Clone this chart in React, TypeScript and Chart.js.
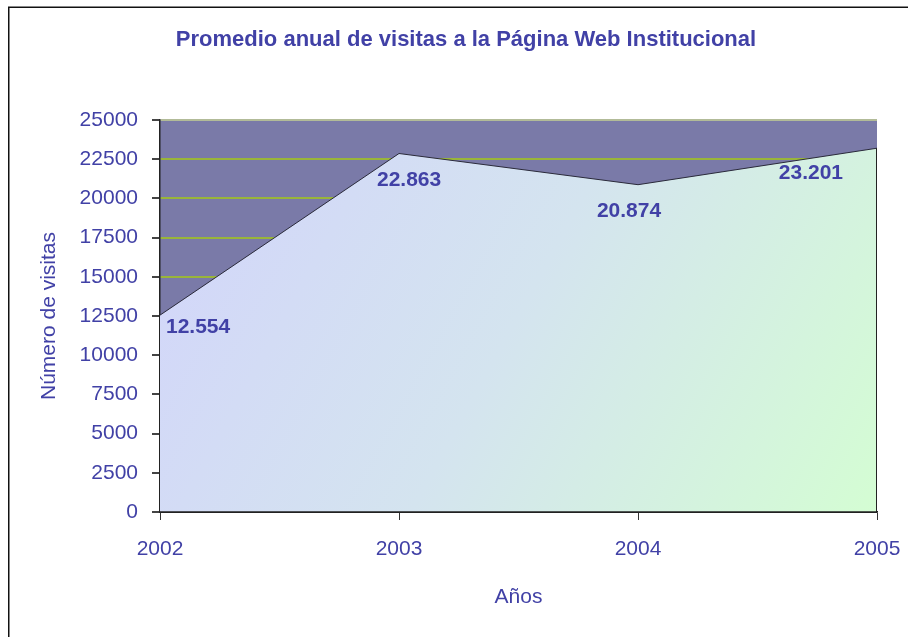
import React, { useEffect, useRef } from "react";
import { Chart, registerables } from "chart.js";

Chart.register(...registerables);

const years = ["2002", "2003", "2004", "2005"];
const visits = [12554, 22863, 20874, 23201];
const yTicks = [0, 2500, 5000, 7500, 10000, 12500, 15000, 17500, 20000, 22500, 25000];

const titleText = "Promedio anual de visitas a la Página Web Institucional";
const xTitle = "Años";
const yTitle = "Número de visitas";

const TEXT = "#4141a6";
const FONT = '"Liberation Sans", Arial, sans-serif';

// label placement relative to each point (styling only)
const labelPlacement = [
  { dx: 6, dy: 12, align: "left" },
  { dx: -22, dy: 27, align: "left" },
  { dx: -9, dy: 27, align: "center" },
  { dx: -34, dy: 25, align: "right" },
];

function fmt(v: number): string {
  return String(v).replace(/\B(?=(\d{3})+(?!\d))/g, ".");
}

const decorPlugin = {
  id: "decor",
  beforeDraw(chart: any) {
    const { ctx, chartArea } = chart;
    ctx.save();
    ctx.fillStyle = "#ffffff";
    ctx.fillRect(0, 0, chart.width, chart.height);
    ctx.strokeStyle = "#111111";
    ctx.lineWidth = 1.5;
    ctx.strokeRect(8.75, 7.25, chart.width + 20, chart.height + 20);
    ctx.fillStyle = "#7a7aa8";
    ctx.fillRect(chartArea.left, chartArea.top, chartArea.right - chartArea.left, chartArea.bottom - chartArea.top);
    ctx.restore();
  },
  afterDatasetsDraw(chart: any) {
    const { ctx, chartArea } = chart;
    const meta = chart.getDatasetMeta(0);
    const pts = meta.data;
    ctx.save();
    const last = pts[pts.length - 1];
    ctx.strokeStyle = "#222222";
    ctx.lineWidth = 1;
    ctx.beginPath();
    ctx.moveTo(Math.round(last.x) - 0.5, last.y);
    ctx.lineTo(Math.round(last.x) - 0.5, chartArea.bottom);
    ctx.stroke();
    ctx.font = `bold 21px ${FONT}`;
    ctx.fillStyle = TEXT;
    ctx.textBaseline = "middle";
    pts.forEach((p: any, i: number) => {
      const pl = labelPlacement[i];
      ctx.textAlign = pl.align;
      ctx.fillText(fmt(visits[i]), p.x + pl.dx, p.y + pl.dy);
    });
    ctx.restore();
  },
  afterDraw(chart: any) {
    const { ctx, chartArea } = chart;
    ctx.save();
    ctx.strokeStyle = "#222222";
    ctx.lineWidth = 1.5;
    ctx.beginPath();
    ctx.moveTo(chartArea.left, chartArea.bottom);
    ctx.lineTo(chartArea.right, chartArea.bottom);
    ctx.stroke();
    ctx.font = `bold 22px ${FONT}`;
    ctx.fillStyle = TEXT;
    ctx.textAlign = "center";
    ctx.textBaseline = "middle";
    ctx.fillText(titleText, 466, 40);
    ctx.restore();
  },
};

export default function App() {
  const ref = useRef<HTMLCanvasElement | null>(null);
  useEffect(() => {
    if (!ref.current) return;
    const chart = new Chart(ref.current, {
      type: "line",
      data: {
        labels: years,
        datasets: [
          {
            data: visits,
            fill: "origin",
            borderColor: "#2a2a3a",
            borderWidth: 1,
            pointRadius: 0,
            tension: 0,
            backgroundColor: (c: any) => {
              const area = c.chart.chartArea;
              if (!area) return "#d4e4f0";
              const g = c.chart.ctx.createLinearGradient(area.left, area.top, area.right, area.bottom);
              g.addColorStop(0, "#d2d4fb");
              g.addColorStop(0.5, "#d4e4ef");
              g.addColorStop(1, "#d4fdd3");
              return g;
            },
          },
        ],
      },
      options: {
        animation: false,
        responsive: true,
        maintainAspectRatio: false,
        layout: { padding: { left: 30, right: 31, top: 120, bottom: 0 } },
        plugins: {
          legend: { display: false },
          tooltip: { enabled: false },
          title: { display: false },
        },
        scales: {
          x: {
            offset: false,
            grid: { display: true, drawOnChartArea: false, drawTicks: true, tickLength: 8, tickColor: "#333333" },
            border: { display: true, color: "#222222", width: 1.5 },
            ticks: { color: TEXT, font: { family: FONT, size: 21 }, padding: 17, maxRotation: 0 },
            title: {
              display: true,
              text: xTitle,
              color: TEXT,
              font: { family: FONT, size: 21 },
              padding: { top: 0, bottom: 27 },
            },
            afterFit: (s: any) => {
              s.height = 125;
              s.paddingLeft = 0;
              s.paddingRight = 0;
            },
          },
          y: {
            min: 0,
            max: 25000,
            afterBuildTicks: (s: any) => {
              s.ticks = yTicks.map((v) => ({ value: v }));
            },
            grid: {
              color: (c: any) =>
                c.tick && c.tick.value === 0 ? "#222222" : c.tick && c.tick.value === 25000 ? "#b2bb98" : "#99b53a",
              lineWidth: 2,
              tickLength: 8,
              tickColor: "#444444",
            },
            border: { display: true, color: "#222222", width: 1.5 },
            ticks: {
              color: TEXT,
              font: { family: FONT, size: 21 },
              padding: 14,
              callback: (v: any) => String(v),
            },
            title: {
              display: true,
              text: yTitle,
              color: TEXT,
              font: { family: FONT, size: 21 },
              padding: { top: 7, bottom: 0 },
            },
            afterFit: (s: any) => {
              s.width = 130;
              s.paddingTop = 0;
              s.paddingBottom = 0;
            },
          },
        },
      },
      plugins: [decorPlugin],
    });
    return () => chart.destroy();
  }, []);
  return (
    <div style={{ position: "absolute", left: 0, top: 0, width: 908, height: 637 }}>
      <canvas ref={ref} />
    </div>
  );
}
